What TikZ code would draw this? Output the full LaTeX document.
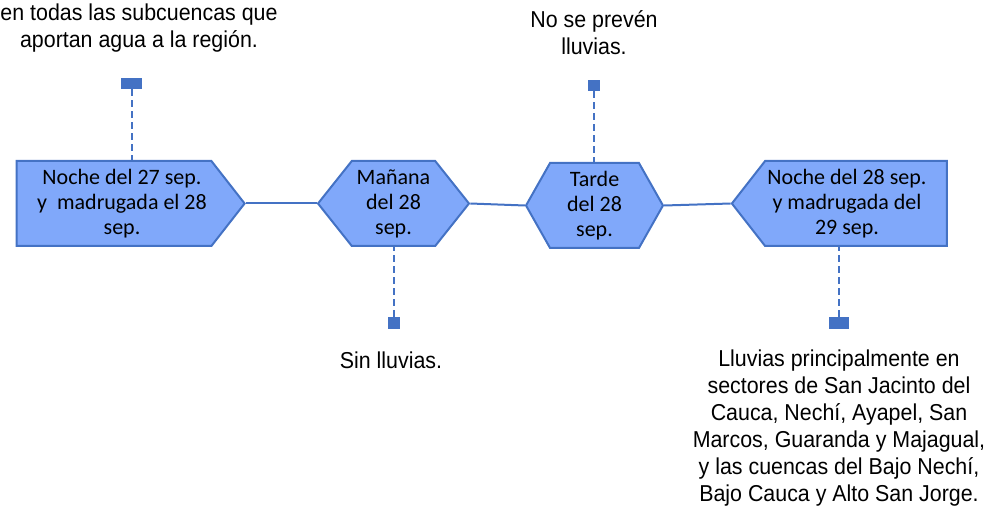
\documentclass[tikz,border=0pt]{standalone}
\usepackage{fontspec}
\setmainfont{Carlito}
\newfontfamily\narrowfont[FakeStretch=0.93]{Liberation Sans}
\usetikzlibrary{shapes.symbols}
\definecolor{boxblue}{RGB}{128,168,250}
\definecolor{lineblue}{RGB}{68,114,196}
\tikzstyle{period} = [signal, draw=lineblue, fill=boxblue, line width=2pt, minimum height=85, inner sep=0pt, align=center, font=\fontsize{22}{25}\selectfont]
\tikzstyle{boxtext} = [inner sep=0pt, align=center, font=\fontsize{22}{25}\selectfont]
\tikzstyle{marker} = [rectangle, fill=lineblue, inner sep=0pt]
\tikzstyle{note} = [align=center, inner sep=0pt, font=\narrowfont\fontsize{23}{27}\selectfont]
\tikzstyle{link} = [lineblue, line width=2pt]
\tikzstyle{lead} = [lineblue, line width=2pt, dash pattern=on 7pt off 4pt]

\begin{document}
\begin{tikzpicture}[x=1pt, y=-1pt]
        \useasboundingbox (0,0) rectangle (986,513);
        \node (noche27) [period, signal to=east, signal pointer angle=104, minimum width=228, text width=160] at (114,203.5) {};
        \node (manana) [period, signal to=west and east, signal pointer angle=103, minimum width=151] at (393.5,203.5) {Mañana\\del 28\\sep.};
        \node (tarde) [period, signal to=west and east, signal pointer angle=121, minimum width=137] at (594.5,205.5) {Tarde\\del 28\\sep.};
        \node (noche28) [period, signal to=west, signal pointer angle=104, minimum width=215, text width=160] at (856,203.5) {};
        \node (t27) [boxtext] at (122,203.5) {Noche del 27 sep.\\y~~madrugada el 28\\sep.};
        \node (t28) [boxtext] at (847,203.5) {Noche del 28 sep.\\y madrugada del\\29 sep.};

        \node (m1) [marker, minimum width=21, minimum height=11] at (131.5,83.5) {};
        \node (m2) [marker, minimum width=12, minimum height=12] at (394,323) {};
        \node (m3) [marker, minimum width=12, minimum height=11] at (594,85.5) {};
        \node (m4) [marker, minimum width=20, minimum height=12] at (839,323) {};

        \node (n1) [note] at (139,28) {en todas las subcuencas que\\aportan agua a la región.};
        \node (n2) [note] at (391,360) {Sin lluvias.};
        \node (n3) [note] at (594,33) {No se prevén\\lluvias.};
        \node (n4) [note] at (839,428.5) {Lluvias principalmente en\\sectores de San Jacinto del\\Cauca, Nechí, Ayapel, San\\Marcos, Guaranda y Majagual,\\y las cuencas del Bajo Nechí,\\Bajo Cauca y Alto San Jorge.};

        \draw [link] (noche27.east) -- (manana.west);
        \draw [link] (manana.east) -- (tarde.west);
        \draw [link] (tarde.east) -- (noche28.west);

        \draw [lead] (m1) -- (m1 |- noche27.north);
        \draw [lead] (m2) -- (m2 |- manana.south);
        \draw [lead] (m3) -- (m3 |- tarde.north);
        \draw [lead] (m4) -- (m4 |- noche28.south);
    \end{tikzpicture}
\end{document}
